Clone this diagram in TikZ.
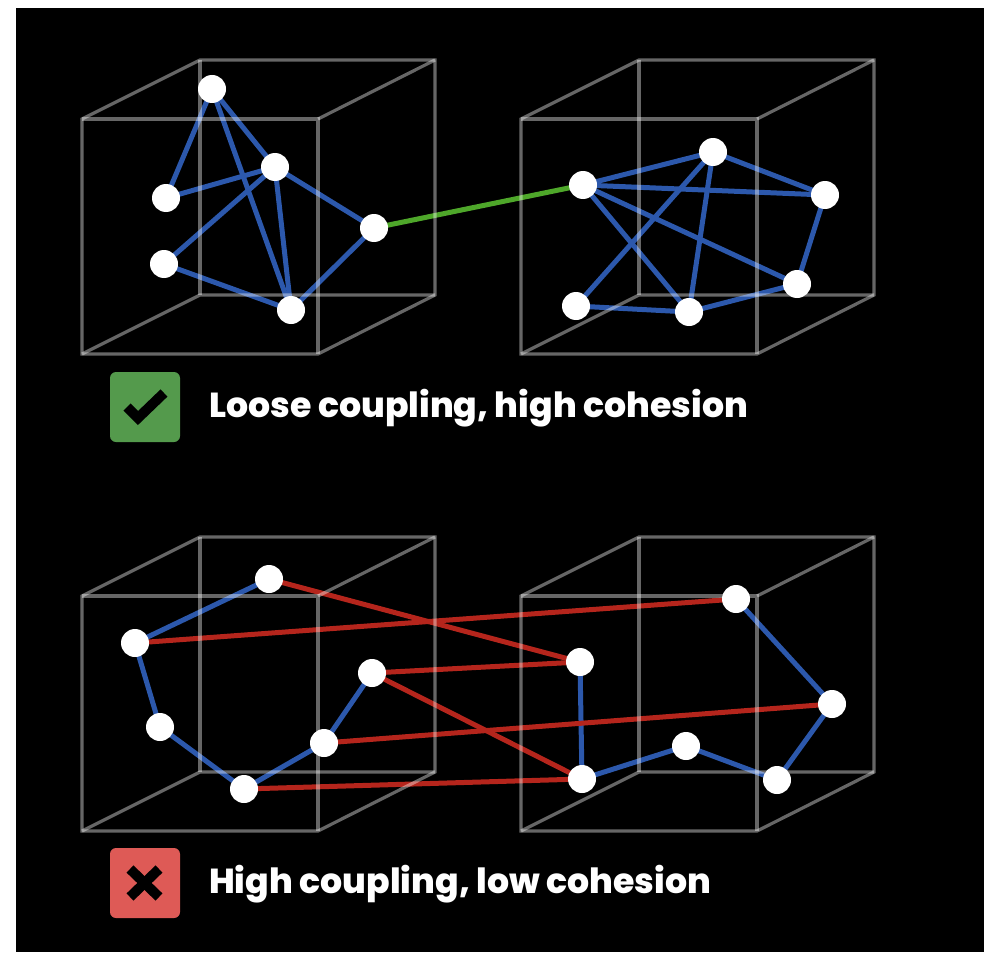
\documentclass[tikz,border=0pt]{standalone}
\usepackage{fontspec}
\setmainfont{Poppins}[BoldFont=* ExtraBold]
\definecolor{linkblue}{HTML}{2C58AC}
\definecolor{linkred}{HTML}{B5251C}
\definecolor{linkgreen}{HTML}{4EA72A}
\definecolor{okgreen}{HTML}{549A4C}
\definecolor{badred}{HTML}{DE5A56}
\pgfdeclarelayer{ground}
\pgfdeclarelayer{links}
\pgfdeclarelayer{cubes}
\pgfsetlayers{ground,links,cubes,main}
\tikzset{
  x=1pt,y=-1pt,
  dot/.style={circle,fill=white,draw=none,minimum size=28pt,inner sep=0pt},
  inner/.style={line width=5pt,draw=linkblue},
  cross/.style={line width=5pt,draw=linkred},
  bridge/.style={line width=5pt,draw=linkgreen},
  cubeedge/.style={line width=3.2pt,draw=white,draw opacity=0.4,line join=miter},
  badge/.style={minimum size=70pt,inner sep=0pt,rounded corners=6pt,draw=none},
  caption/.style={anchor=west,text=white,font=\fontsize{34.7pt}{36pt}\selectfont\bfseries,inner sep=0pt},
  tick/.style={line width=10pt,draw=black},
}
\newcommand{\cubeat}[2]{%
  \begin{scope}[shift={(#1,#2)}]
    \draw[cubeedge] (118,0) -- (353,0) -- (353,235) -- (236,294) -- (0,294) -- (0,59) -- cycle;
    \draw[cubeedge] (0,59) -- (236,59) -- (236,294);
    \draw[cubeedge] (236,59) -- (353,0);
    \draw[cubeedge] (118,0) -- (118,235);
    \draw[cubeedge] (0,294) -- (118,235) -- (353,235);
  \end{scope}}
\begin{document}
\begin{tikzpicture}
\useasboundingbox (0,0) rectangle (992,960);
\begin{pgfonlayer}{ground}
\fill[white] (0,0) rectangle (992,960);
\fill[black] (16,8) rectangle (984,952);
\end{pgfonlayer}
\begin{pgfonlayer}{cubes}
\cubeat{82}{60}
\cubeat{521}{60}
\cubeat{82}{537}
\cubeat{521}{537}
\end{pgfonlayer}
% top nodes
\node[dot] (a1) at (212,89) {};
\node[dot] (a2) at (275,167) {};
\node[dot] (a3) at (166,198) {};
\node[dot] (a4) at (164,264) {};
\node[dot] (a5) at (374,228) {};
\node[dot] (a6) at (291,310) {};
\node[dot] (b1) at (583,185) {};
\node[dot] (b2) at (713,152) {};
\node[dot] (b3) at (825,195) {};
\node[dot] (b4) at (797,284) {};
\node[dot] (b5) at (689,312) {};
\node[dot] (b6) at (576,306) {};
% bottom nodes
\node[dot] (c1) at (269,579) {};
\node[dot] (c2) at (135,643) {};
\node[dot] (c3) at (160,727) {};
\node[dot] (c4) at (244,789) {};
\node[dot] (c5) at (324,743) {};
\node[dot] (c6) at (372,673) {};
\node[dot] (d1) at (736,599) {};
\node[dot] (d2) at (832,704) {};
\node[dot] (d3) at (777,780) {};
\node[dot] (d4) at (686,746) {};
\node[dot] (d5) at (582,779) {};
\node[dot] (d6) at (580,662) {};
\begin{pgfonlayer}{links}
\foreach \p/\q in {a1/a3,a1/a2,a1/a6,a2/a3,a2/a4,a2/a6,a2/a5,a4/a6,a5/a6,
  b1/b2,b1/b3,b1/b4,b1/b5,b2/b3,b2/b5,b2/b6,b3/b4,b4/b5,b5/b6,
  c1/c2,c2/c3,c3/c4,c4/c5,c5/c6,
  d1/d2,d2/d3,d3/d4,d4/d5,d5/d6}
  \draw[inner] (\p.center) -- (\q.center);
\draw[bridge] (a5.center) -- (b1.center);
\foreach \p/\q in {c1/d6,c2/d1,c6/d6,c6/d5,c5/d2,c4/d5}
  \draw[cross] (\p.center) -- (\q.center);
\end{pgfonlayer}
% captions
\node[badge,fill=okgreen] (okbadge) at (145,407) {};
\draw[tick,line cap=butt,line join=miter] (127,407) -- (138,418) -- (164,393);
\node[caption] (oktext) at (209,408) {Loose coupling, high cohesion};
\node[badge,fill=badred] (badbadge) at (145,883) {};
\draw[tick] (130,869) -- (159,897);
\draw[tick] (159,869) -- (130,897);
\node[caption] (badtext) at (209,884) {High coupling, low cohesion};
\end{tikzpicture}
\end{document}
